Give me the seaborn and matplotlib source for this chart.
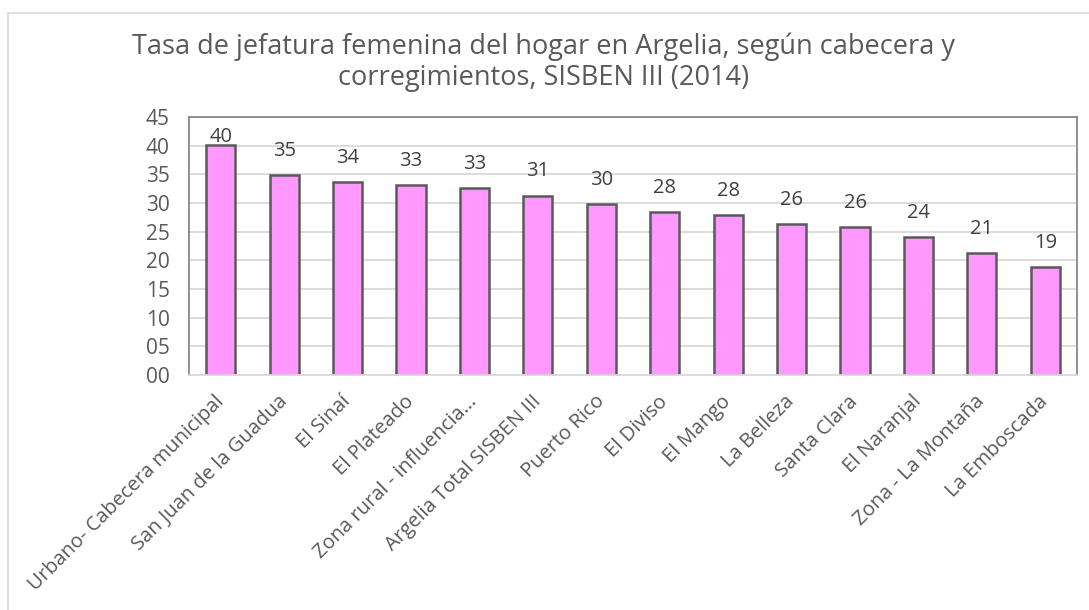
import numpy as np
import pandas as pd
import matplotlib
matplotlib.use("Agg")
import matplotlib.pyplot as plt
import seaborn as sns
from matplotlib.patches import Rectangle

# values
lugares = ["Urbano- Cabecera municipal", "San Juan de la Guadua", "El Sinaí",
           "El Plateado", "Zona rural - influencia…", "Argelia Total SISBEN III",
           "Puerto Rico", "El Diviso", "El Mango", "La Belleza", "Santa Clara",
           "El Naranjal", "Zona - La Montaña", "La Emboscada"]
tasa = [40.1, 34.9, 33.6, 33.1, 32.6, 31.3, 29.8, 28.4, 27.9, 26.4, 25.8, 24.0, 21.2, 18.8]
y_ticks = [0, 5, 10, 15, 20, 25, 30, 35, 40, 45]

df = pd.DataFrame({"lugar": lugares, "tasa": tasa})

sns.set_style("white")
plt.rcParams["font.family"] = ["Open Sans", "DejaVu Sans"]

txt = "#595959"

fig = plt.figure(figsize=(10.89, 6.10), dpi=100)
ax = fig.add_axes([0.1736, 0.3852, 0.8154, 0.423])

sns.barplot(data=df, x="lugar", y="tasa", color="#FF99FF", edgecolor="#595959",
            linewidth=1.8, width=0.46, saturation=1, ax=ax)

ax.set_ylim(0, 45)
ax.set_yticks(y_ticks)
ax.set_yticklabels([f"{t:02d}" for t in y_ticks], fontsize=15, color=txt)
ax.set_xticks(range(len(lugares)))
ax.set_xticklabels(lugares, rotation=45, ha="right", va="center",
                   rotation_mode="anchor", fontsize=14.5, color=txt)
ax.tick_params(axis="x", length=0, pad=17)
ax.tick_params(axis="y", length=0, pad=14)
ax.set_xlabel("")
ax.set_ylabel("")

ax.yaxis.grid(True, color="#D9D9D9", linewidth=1.3)
ax.set_axisbelow(True)
for side in ["left", "top", "right"]:
    ax.spines[side].set_color("#7F7F7F")
    ax.spines[side].set_linewidth(1.2)
ax.spines["bottom"].set_color("#D9D9D9")
ax.spines["bottom"].set_linewidth(1.3)

# data labels, kept inside the plot area like the original
for i, v in enumerate(tasa):
    ax.text(i, min(v + 4.2, 41.5), f"{v:.0f}", ha="center", va="center",
            fontsize=14.5, color="#404040")

fig.text(0.499, 0.898, "Tasa de jefatura femenina del hogar en Argelia, según cabecera y\ncorregimientos, SISBEN III (2014)",
         ha="center", va="center", fontsize=19.5, color=txt, linespacing=1.12)

fig.patches.append(Rectangle((0.007, -0.1), 1.1, 1.079, transform=fig.transFigure,
                             fill=False, edgecolor="#D9D9D9", linewidth=1.2))

fig.savefig("out.png", dpi=100)
